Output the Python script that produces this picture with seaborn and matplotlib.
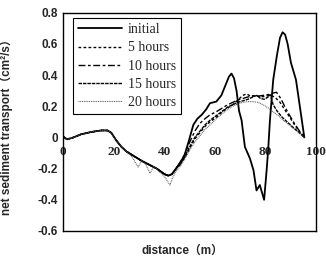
import pandas as pd
import matplotlib
matplotlib.use("Agg")
import matplotlib.pyplot as plt
import seaborn as sns

# shared part of the profile (all runs lie on top of each other here)
base_x = [0, 1.5, 4, 7, 11, 15, 17.5, 19, 21, 23, 25, 28, 31, 34, 37, 40, 41.5, 43, 45]
base_y = [0.005, -0.012, 0.0, 0.02, 0.035, 0.045, 0.045, 0.03, -0.02, -0.06, -0.09,
          -0.12, -0.15, -0.175, -0.2, -0.235, -0.245, -0.235, -0.19]

# initial
init_x = [47, 48, 49.5, 51.4, 53, 54.7, 56.5, 58, 60.5, 62.5, 64, 65.5, 66.5, 67.5,
          68.5, 69.5, 70.5, 71.8, 73.8, 75.2, 76.4, 77.7, 79.4, 80.4, 81, 81.7, 83,
          84.5, 85.7, 86.7, 87.7, 88.7, 90, 92, 95.3]
init_y = [-0.14, -0.11, -0.03, 0.08, 0.12, 0.145, 0.18, 0.22, 0.23, 0.27, 0.33, 0.39,
          0.41, 0.38, 0.3, 0.17, 0.11, -0.06, -0.135, -0.21, -0.34, -0.305, -0.4,
          -0.21, -0.08, 0.11, 0.37, 0.53, 0.64, 0.675, 0.66, 0.6, 0.48, 0.37, 0.0]

# 5 hours
h5_x = [46, 48, 50, 52, 54, 56, 58, 60.5, 63, 65, 67, 69, 71, 72.5, 74, 76, 78, 80,
        82, 83.5, 85.5, 87.5, 89.5, 91.5, 93.5, 95.3]
h5_y = [-0.18, -0.13, -0.07, -0.01, 0.03, 0.07, 0.1, 0.13, 0.165, 0.19, 0.21, 0.24,
        0.27, 0.28, 0.265, 0.27, 0.26, 0.265, 0.27, 0.26, 0.23, 0.18, 0.13, 0.08,
        0.035, 0.0]

# 10 hours
h10_x = [46, 48, 50, 52, 54, 56, 58, 60.5, 63, 65, 67, 69, 71, 73, 75, 77, 79, 81,
         83, 84.3, 86, 87.5, 89, 91, 93, 95.3]
h10_y = [-0.17, -0.11, -0.03, 0.04, 0.09, 0.12, 0.145, 0.165, 0.19, 0.21, 0.225,
         0.24, 0.25, 0.26, 0.265, 0.265, 0.27, 0.275, 0.285, 0.29, 0.25, 0.2, 0.155,
         0.1, 0.05, 0.0]

# 15 hours
h15_x = [46, 48, 50, 52, 54, 56, 58, 60.5, 63, 65, 67, 69, 71, 73, 75, 76.5, 78,
         79.5, 81, 81.8, 83, 84.5, 86.5, 88.5, 90.5, 93, 95.3]
h15_y = [-0.18, -0.125, -0.06, 0.0, 0.04, 0.08, 0.11, 0.14, 0.17, 0.195, 0.21, 0.225,
         0.235, 0.245, 0.26, 0.27, 0.25, 0.245, 0.26, 0.275, 0.21, 0.17, 0.13, 0.1,
         0.07, 0.035, 0.0]

# 20 hours (own wiggles between 25 and 45 m)
h20_x = [0, 1.5, 4, 7, 11, 15, 17.5, 19, 21, 23, 25, 27, 29.6, 31, 32.5, 34.3, 35.8,
         38, 40, 42.2, 43.2, 44.5, 46, 48, 50, 52, 54, 56, 58, 60.5, 63, 65, 67, 69,
         71, 73, 75, 77, 79, 81, 83, 85, 87, 89, 91.5, 93.5, 95.3]
h20_y = [0.005, -0.012, 0.0, 0.02, 0.035, 0.045, 0.045, 0.03, -0.02, -0.06, -0.09,
         -0.12, -0.19, -0.15, -0.17, -0.23, -0.185, -0.22, -0.25, -0.305, -0.26,
         -0.22, -0.19, -0.14, -0.08, -0.03, 0.01, 0.05, 0.08, 0.12, 0.155, 0.18, 0.2,
         0.215, 0.225, 0.23, 0.23, 0.225, 0.21, 0.19, 0.165, 0.14, 0.11, 0.085, 0.05,
         0.025, 0.0]

cases = ["initial", "5 hours", "10 hours", "15 hours", "20 hours"]
x_ticks = [0, 20, 40, 60, 80, 100]
y_ticks = [0.8, 0.6, 0.4, 0.2, 0, -0.2, -0.4, -0.6]
y_tick_labels = ["0.8", "0.6", "0.4", "0.2", "0", "-0.2", "-0.4", "-0.6"]

series = {
    "initial": (base_x + init_x, base_y + init_y),
    "5 hours": (base_x + h5_x, base_y + h5_y),
    "10 hours": (base_x + h10_x, base_y + h10_y),
    "15 hours": (base_x + h15_x, base_y + h15_y),
    "20 hours": (h20_x, h20_y),
}
frames = []
for c in cases:
    xs, ys = series[c]
    frames.append(pd.DataFrame({"distance": xs, "transport": ys, "case": c}))
df = pd.concat(frames, ignore_index=True)

sns.set_style("white")
plt.rcParams["font.family"] = ["Liberation Sans", "Noto Sans CJK JP", "DejaVu Sans"]

fig, ax = plt.subplots(figsize=(3.26, 2.66), dpi=100)
fig.subplots_adjust(left=0.194, right=0.970, bottom=0.1316, top=0.952)

palette = {"initial": "black", "5 hours": "black", "10 hours": "black",
           "15 hours": "black", "20 hours": "#555555"}
dashes = {"initial": "", "5 hours": (2, 1.6), "10 hours": (5, 1.8, 2, 1.8),
          "15 hours": (2.5, 0.7), "20 hours": (0.8, 0.8)}
sizes = {"initial": 1.3, "5 hours": 1.0, "10 hours": 1.0, "15 hours": 1.0,
         "20 hours": 0.8}

sns.lineplot(data=df, x="distance", y="transport", hue="case", style="case",
             size="case", hue_order=cases, style_order=cases, size_order=cases,
             palette=palette, dashes=dashes, sizes=sizes, estimator=None,
             sort=False, ax=ax)

ax.set_xlim(0, 100)
ax.set_ylim(-0.6, 0.8)
ax.set_yticks(y_ticks)
ax.set_yticklabels(y_tick_labels, fontweight="bold", fontsize=8.5)
ax.tick_params(axis="y", length=0, pad=4)
ax.set_xticks([])
for s in ax.spines.values():
    s.set_color("black")
    s.set_linewidth(1.0)

# x tick labels sit on the zero line
sec = ax.secondary_xaxis((0 - (-0.6)) / (0.8 - (-0.6)))
sec.spines["bottom"].set_visible(False)
sec.set_xticks(x_ticks)
sec.set_xticklabels([str(v) for v in x_ticks], fontweight="bold", fontsize=9.5,
                    family=["Liberation Serif"])
sec.tick_params(length=0, pad=6)

ax.set_xlabel("distance（m）", fontweight="bold", fontsize=8.5)
ax.xaxis.set_label_coords(0.47, -0.065)
ax.set_ylabel("net sediment transport（cm²/s）", fontweight="bold", fontsize=8.5)
ax.yaxis.set_label_coords(-0.2, 0.49)

leg = ax.legend(loc="upper left", bbox_to_anchor=(0.038, 0.975), frameon=True,
                fancybox=False, handlelength=3.2, handletextpad=0.4,
                labelspacing=0.38, borderpad=0.35, borderaxespad=0,
                prop={"family": "Liberation Serif", "size": 10})
leg.get_frame().set_edgecolor("black")
leg.get_frame().set_linewidth(0.8)
leg.get_frame().set_alpha(1)

fig.savefig("out.png", dpi=100)
